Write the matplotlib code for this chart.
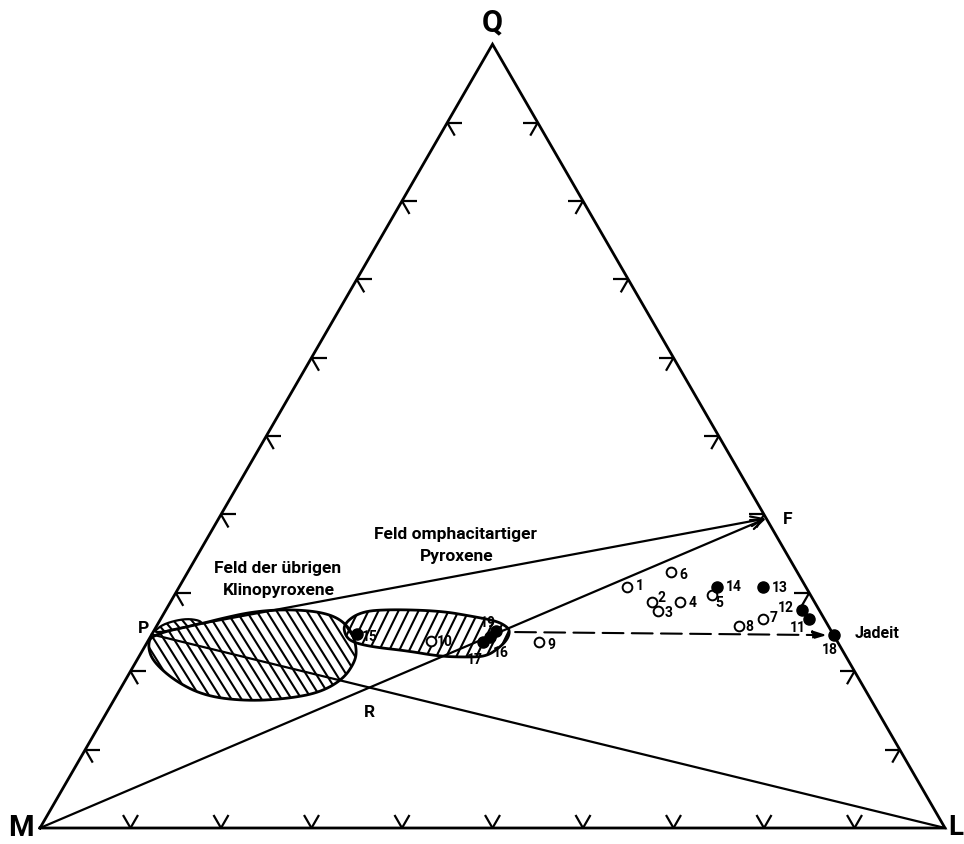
import numpy as np
import matplotlib
matplotlib.use("Agg")
import matplotlib.pyplot as plt
from matplotlib.patches import Polygon
from matplotlib.collections import LineCollection

# ---------------- data (compositions in %, Q and L; M = 100 - Q - L) ----------------
sample_ids    = ['1', '2', '3', '4', '5', '6', '7', '8', '9', '10',
                 '11', '12', '13', '14', '15', '16', '17', '18', '19']
sample_Q      = [30.7, 28.8, 27.7, 28.8, 29.7, 32.7, 26.7, 25.8, 23.7, 23.9,
                 26.7, 27.8, 30.7, 30.7, 24.7, 24.4, 23.7, 24.6, 25.1]
sample_L      = [49.5, 53.2, 54.4, 56.3, 59.4, 53.4, 66.5, 64.3, 43.3, 31.2,
                 71.6, 70.3, 64.5, 59.5, 22.7, 37.5, 37.1, 75.4, 37.8]
sample_filled = [False, False, False, False, False, False, False, False, False, False,
                 True, True, True, True, True, True, True, True, True]

# reference points P and F
P_Q, P_L = 24.7, 0.0
F_Q, F_L = 39.5, 60.5
# start of the line from the Klinopyroxene field to F
K_Q, K_L = 26.1, 4.9
# start of the dashed arrow towards Jadeit
D_Q, D_L = 25.0, 40.0

# field outlines (Q %, L %)
klino_Q = [24.7, 23.2, 21.2, 18.6, 16.8, 16.2, 16.5, 17.3, 19.0, 21.2, 22.8,
           25.0, 26.7, 27.6, 27.9, 27.6, 26.7, 26.1]
klino_L = [0.0, 0.3, 1.9, 5.8, 10.0, 14.8, 19.1, 22.3, 24.0, 24.2, 23.6,
           22.0, 19.8, 17.1, 13.3, 9.7, 6.6, 4.9]
lobe_Q = [24.7, 25.8, 26.4, 26.7, 26.5, 26.1]
lobe_L = [0.0, 0.4, 1.5, 2.9, 4.3, 4.9]
omph_Q = [26.0, 27.6, 27.9, 27.7, 27.0, 26.4, 25.6, 25.0, 24.1, 23.1, 21.9,
          21.8, 21.9, 22.6, 23.1, 23.7, 24.5]
omph_L = [20.5, 21.6, 24.7, 30.4, 34.3, 37.3, 38.9, 39.4, 39.6, 39.3, 38.4,
          36.3, 33.2, 29.3, 25.2, 22.7, 21.5]

tick_values = [10, 20, 30, 40, 50, 60, 70, 80, 90]

# ---------------- helpers ----------------
S3 = np.sqrt(3) / 2


def tern(Q, L):
    Q = np.asarray(Q, dtype=float) / 100.0
    L = np.asarray(L, dtype=float) / 100.0
    return L + 0.5 * Q, Q * S3


def chaikin(x, y, n=3):
    pts = np.column_stack([x, y])
    for _ in range(n):
        nxt = np.roll(pts, -1, axis=0)
        q = 0.75 * pts + 0.25 * nxt
        r = 0.25 * pts + 0.75 * nxt
        pts = np.empty((2 * len(q), 2))
        pts[0::2] = q
        pts[1::2] = r
    return pts


def add_hatched(ax, pts, angle, spacing, lw_edge=2.0, lw_hatch=1.5):
    patch = Polygon(pts, closed=True, facecolor='white', edgecolor='none',
                    linewidth=0, zorder=3)
    ax.add_patch(patch)
    c = pts.mean(axis=0)
    R = np.max(np.hypot(pts[:, 0] - c[0], pts[:, 1] - c[1])) * 1.2
    a = np.radians(angle)
    d = np.array([np.cos(a), np.sin(a)])
    nrm = np.array([-np.sin(a), np.cos(a)])
    segs = []
    for o in np.arange(-R, R, spacing):
        segs.append([c + o * nrm - R * d, c + o * nrm + R * d])
    lc = LineCollection(segs, colors='black', linewidths=lw_hatch, zorder=3.5)
    ax.add_collection(lc)
    lc.set_clip_path(patch)
    outline = Polygon(pts, closed=True, fill=False, edgecolor='black',
                      linewidth=lw_edge, zorder=4)
    ax.add_patch(outline)
    return patch


# ---------------- figure ----------------
fig = plt.figure(figsize=(9.64, 8.45), dpi=100)
ax = fig.add_axes([0, 0, 1, 1])
ax.set_xlim(-40 / 905, 924 / 905)
ax.set_ylim(-16 / 905, 829 / 905)
ax.set_aspect('equal')
ax.axis('off')

font = ['Roboto', 'DejaVu Sans']

# triangle
Mx, My = tern(0, 0)
Lx, Ly = tern(0, 100)
Qx, Qy = tern(100, 0)
ax.plot([Mx, Lx, Qx, Mx], [My, Ly, Qy, My], color='black', lw=2.0,
        solid_joinstyle='miter', zorder=2)

# edge ticks (double barbs)
arm = 15 / 905
tick_segs = []
for t in tick_values:
    f = t / 100.0
    bx, by = f, 0.0
    tick_segs.append([(bx, by), (bx - 0.5 * arm, by + S3 * arm)])
    tick_segs.append([(bx, by), (bx + 0.5 * arm, by + S3 * arm)])
    lx, ly = tern(t, 0)
    tick_segs.append([(lx, ly), (lx + arm, ly)])
    tick_segs.append([(lx, ly), (lx + 0.5 * arm, ly - S3 * arm)])
    rx, ry = tern(t, 100 - t)
    tick_segs.append([(rx, ry), (rx - arm, ry)])
    tick_segs.append([(rx, ry), (rx - 0.5 * arm, ry - S3 * arm)])
ax.add_collection(LineCollection(tick_segs, colors='black', linewidths=1.6, zorder=2))

# fields
kx, ky = tern(klino_Q, klino_L)
add_hatched(ax, chaikin(kx, ky, 3), angle=-58, spacing=8.5 / 905)
lbx, lby = tern(lobe_Q, lobe_L)
add_hatched(ax, chaikin(lbx, lby, 2), angle=-50, spacing=7 / 905, lw_edge=1.6)
ox, oy = tern(omph_Q, omph_L)
add_hatched(ax, chaikin(ox, oy, 3), angle=64, spacing=9 / 905)

# construction lines
Px, Py = tern(P_Q, P_L)
Fx, Fy = tern(F_Q, F_L)
Kx, Ky = tern(K_Q, K_L)
ax.plot([Px, Lx], [Py, Ly], color='black', lw=1.6, zorder=5)
ax.annotate('', xy=(Fx, Fy), xytext=(Mx, My),
            arrowprops=dict(arrowstyle='->,head_length=0.9,head_width=0.35',
                            color='black', lw=1.6, shrinkA=0, shrinkB=0), zorder=5)
ax.annotate('', xy=(Fx, Fy), xytext=(Kx, Ky),
            arrowprops=dict(arrowstyle='->,head_length=0.9,head_width=0.35',
                            color='black', lw=1.6, shrinkA=0, shrinkB=0), zorder=5)

# dashed arrow to Jadeit
Dx, Dy = tern(D_Q, D_L)
jx, jy = tern(sample_Q[17], sample_L[17])
ax.annotate('', xy=(jx, jy), xytext=(Dx, Dy),
            arrowprops=dict(arrowstyle='-|>,head_length=0.8,head_width=0.25',
                            color='black', lw=1.5, linestyle=(0, (10, 4)),
                            shrinkA=0, shrinkB=5), zorder=5)

# samples
sx, sy = tern(sample_Q, sample_L)
for i, sid in enumerate(sample_ids):
    if sample_filled[i]:
        ax.plot(sx[i], sy[i], 'o', ms=8, mfc='black', mec='black', zorder=7)
    else:
        ax.plot(sx[i], sy[i], 'o', ms=7, mfc='white', mec='black', mew=1.4, zorder=7)

label_offsets = {
    '1': (9, 2), '2': (7, 4), '3': (8, -1), '4': (9, 0), '5': (5, -5),
    '6': (9, -2), '7': (8, 1), '8': (8, 0), '9': (9, -1), '10': (10, 0),
    '11': (-8, -6), '12': (-12, 2), '13': (12, 0), '14': (12, 1), '15': (9, -1),
    '16': (8, -11), '17': (-6, -12), '18': (-3, -10), '19': (-6, 7),
}
for i, sid in enumerate(sample_ids):
    dx, dy = label_offsets[sid]
    ax.annotate(sid, (sx[i], sy[i]), xytext=(dx, dy), textcoords='offset points',
                ha='center', va='center', fontsize=10, fontweight='bold',
                family=font, zorder=8)


def put(Q, L, s, **kw):
    x, y = tern(Q, L)
    ax.text(x, y, s, family=font, zorder=9, **kw)


put(37.6, 27.1, 'Feld omphacitartiger', ha='center', va='center', fontsize=12.5, fontweight='bold')
put(34.8, 28.6, 'Pyroxene', ha='center', va='center', fontsize=12.5, fontweight='bold')
put(33.2, 9.7, 'Feld der übrigen', ha='center', va='center', fontsize=12.5, fontweight='bold')
put(30.4, 11.2, 'Klinopyroxene', ha='center', va='center', fontsize=12.5, fontweight='bold')
put(24.9, 77.6, 'Jadeit', ha='left', va='center', fontsize=11.5, fontweight='bold')
put(25.6, -1.4, 'P', ha='center', va='center', fontsize=12.5, fontweight='bold')
put(14.9, 29.0, 'R', ha='center', va='center', fontsize=12.5, fontweight='bold')
put(39.5, 62.3, 'F', ha='left', va='center', fontsize=12.5, fontweight='bold')

ax.text(Qx, Qy + 23 / 905, 'Q', ha='center', va='center', fontsize=22,
        fontweight='bold', family=font)
ax.text(Mx - 19 / 905, My + 1 / 905, 'M', ha='center', va='center', fontsize=21,
        fontweight='bold', family=font)
ax.text(Lx + 3 / 905, My + 1 / 905, 'L', ha='left', va='center', fontsize=20,
        fontweight='bold', family=font)

fig.savefig('out.png', dpi=100, facecolor='white')
